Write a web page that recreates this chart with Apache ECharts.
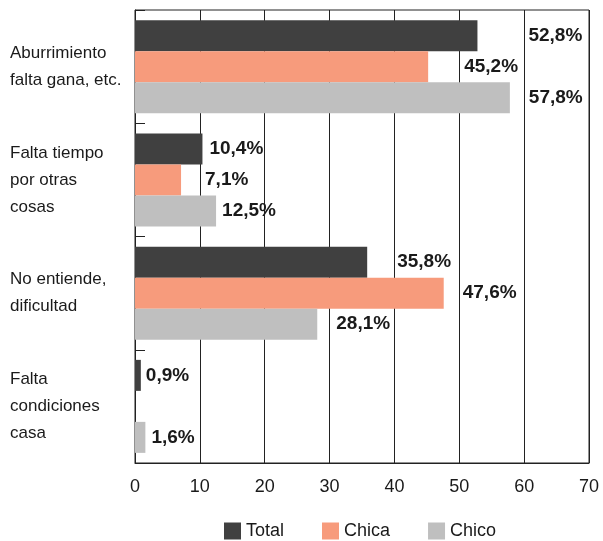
<!DOCTYPE html>
<html>
<head>
<meta charset="utf-8">
<script src="https://cdn.jsdelivr.net/npm/echarts@6/dist/echarts.min.js"></script>
<style>html,body{margin:0;padding:0;background:#fff}#c{width:603px;height:541px}</style>
</head>
<body>
<div id="c"></div>
<script>
const categories = ["Aburrimiento\nfalta gana, etc.", "Falta tiempo\npor otras\ncosas", "No entiende,\ndificultad", "Falta\ncondiciones\ncasa"];
const seriesNames = ["Total", "Chica", "Chico"];
const totalValues = [52.8, 10.4, 35.8, 0.9];
const chicaValues = [45.2, 7.1, 47.6, 0];
const chicoValues = [57.8, 12.5, 28.1, 1.6];
const xTicks = [0, 10, 20, 30, 40, 50, 60, 70];

// label horizontal nudges (style only)
const nudgeTotal = [46, 2, 25, 0];
const nudgeChica = [31, 19, 14, 0];
const nudgeChico = [14, 1, 14, 1];

const colors = ["#404040", "#F79B7C", "#BFBFBF"];
const font = "'Liberation Sans', Arial, sans-serif";

function mk(name, vals, nudge, color) {
  return {
    name: name,
    type: 'bar',
    barWidth: 31,
    barGap: '0%',
    itemStyle: { color: color },
    data: vals.map((v, i) => ({
      value: v,
      label: { show: v > 0, offset: [nudge[i], 0] }
    })),
    label: {
      position: 'right',
      distance: 5,
      fontFamily: font,
      fontSize: 19,
      fontWeight: 'bold',
      color: '#1a1a1a',
      formatter: p => p.value.toFixed(1).replace('.', ',') + '%'
    }
  };
}

const chart = echarts.init(document.getElementById('c'), null, { renderer: 'canvas' });
chart.setOption({
  animation: false,
  textStyle: { fontFamily: font },
  grid: { left: 135, right: 14, top: 10, bottom: 78, show: true, borderColor: '#222', borderWidth: 1, backgroundColor: 'transparent' },
  legend: {
    data: seriesNames,
    top: 517,
    left: 219,
    icon: 'rect',
    itemWidth: 17,
    itemHeight: 17,
    itemGap: 38,
    itemTextGap: 5,
    textStyle: { fontSize: 18, color: '#1a1a1a', fontFamily: font }
  },
  xAxis: {
    type: 'value',
    min: xTicks[0],
    max: xTicks[xTicks.length - 1],
    interval: 10,
    axisLine: { show: true, lineStyle: { color: '#222' } },
    axisTick: { show: false },
    splitLine: { show: true, lineStyle: { color: '#222', width: 1 } },
    axisLabel: { fontSize: 18, color: '#1a1a1a', margin: 15, fontFamily: font }
  },
  yAxis: {
    type: 'category',
    inverse: true,
    data: categories,
    axisLine: { show: true, lineStyle: { color: '#222' } },
    axisTick: { show: true, inside: true, length: 10, lineStyle: { color: '#222' } },
    axisLabel: { align: 'left', margin: 125, fontSize: 17, lineHeight: 27, color: '#1a1a1a', fontFamily: font }
  },
  series: [
    mk(seriesNames[0], totalValues, nudgeTotal, colors[0]),
    mk(seriesNames[1], chicaValues, nudgeChica, colors[1]),
    mk(seriesNames[2], chicoValues, nudgeChico, colors[2])
  ]
});
</script>
</body>
</html>
